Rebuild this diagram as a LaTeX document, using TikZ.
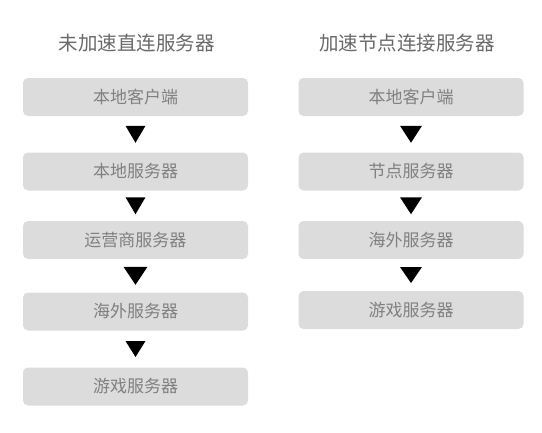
\documentclass[tikz,border=0pt]{standalone}
\usepackage{fontspec}
\newfontfamily\cjk{Noto Sans CJK SC}
\usetikzlibrary{calc}
\definecolor{boxgray}{RGB}{220,220,220}
\definecolor{txtgray}{RGB}{128,128,128}
\definecolor{ttlgray}{RGB}{105,105,105}
\begin{document}
\begin{tikzpicture}[x=1pt,y=-1pt,
  box/.style={fill=boxgray, rounded corners=5pt, minimum width=225pt, minimum height=38pt,
    inner sep=0pt, font=\cjk\fontsize{17}{19}\selectfont, text=txtgray},
  ttl/.style={inner sep=0pt, font=\cjk\fontsize{19.5}{22}\selectfont, text=ttlgray},
  tri/.style={fill=black}]
\useasboundingbox (0,0) rectangle (542,432);
% left column
\node[ttl] (lt) at (137,43) {未加速直连服务器};
\node[box] (l1) at (135.5,97)   {本地客户端};
\node[box] (l2) at (135.5,171.5) {本地服务器};
\node[box] (l3) at (135.5,240)  {运营商服务器};
\node[box] (l4) at (135.5,311.5) {海外服务器};
\node[box] (l5) at (135.5,386.5) {游戏服务器};
% right column
\node[ttl] (rt) at (407,43) {加速节点连接服务器};
\node[box] (r1) at (411,97)   {本地客户端};
\node[box] (r2) at (411,171.5) {节点服务器};
\node[box] (r3) at (411,240)  {海外服务器};
\node[box] (r4) at (411,310)  {游戏服务器};
% triangle connectors
\foreach \a/\b/\w/\h in {l1/l2/10/8.5, l2/l3/10/8.5, l3/l4/12/9, l4/l5/10/8, r1/r2/11/8.5, r2/r3/11/8.5, r3/r4/11/8}{
  \coordinate (m) at ($(\a.south)!0.5!(\b.north)$);
  \fill[tri] ($(m)+(-\w,-\h)$) -- ($(m)+(\w,-\h)$) -- ($(m)+(0,\h)$) -- cycle;
}
\end{tikzpicture}
\end{document}
